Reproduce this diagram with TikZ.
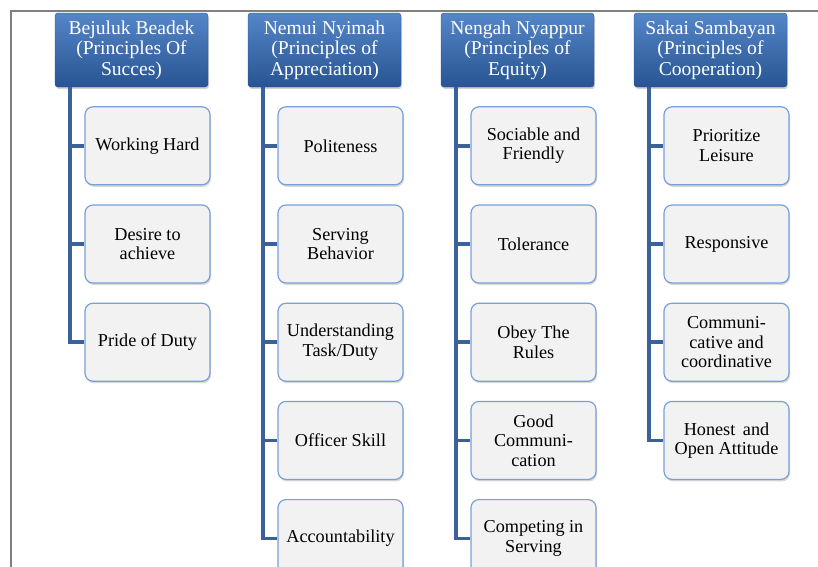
\documentclass[tikz,border=0pt]{standalone}
\usepackage{fontspec}
\setmainfont{Liberation Serif}
\newfontfamily\diagserif{Liberation Serif}
\usepackage{xcolor}
\usepackage{tikz}
\usetikzlibrary{positioning}
\usetikzlibrary{shadows}

\definecolor{headtop}{RGB}{84,134,200}
\definecolor{headbot}{RGB}{40,84,146}
\definecolor{itemline}{RGB}{120,160,216}
\definecolor{itemfill}{RGB}{242,242,242}
\definecolor{trunkcol}{RGB}{58,98,152}
\definecolor{framecol}{RGB}{128,128,128}

\begin{document}
\begin{tikzpicture}[x=1pt,y=-1pt,node distance=19pt,
        head/.style={rectangle,rounded corners=3pt,minimum width=153pt,minimum height=74pt,
            top color=headtop,bottom color=headbot,draw=headbot,text=white,align=center,
            inner sep=1pt,font=\diagserif\fontsize{19.6}{20.5}\selectfont,
            drop shadow={opacity=0.35,shadow xshift=1pt,shadow yshift=-2pt}},
        item/.style={rectangle,rounded corners=8pt,minimum width=125pt,minimum height=78pt,
            fill=itemfill,draw=itemline,line width=1.2pt,align=center,inner sep=1pt,
            font=\diagserif\fontsize{18.2}{19.5}\selectfont,
            drop shadow={opacity=0.3,shadow xshift=1pt,shadow yshift=-2pt}},
        trunk/.style={draw=trunkcol,line width=3.5pt}]
        \clip (0,0) rectangle (818,566);
        \draw[framecol,line width=1.5pt] (11,11) rectangle (840,600);

        % column heads
        \node[head] (bejuluk) at (131.5,50) {Bejuluk Beadek\\(Principles Of\\Succes)};
        \node[head] (nemui) at (324.5,50) {Nemui Nyimah\\(Principles of\\Appreciation)};
        \node[head] (nengah) at (517.5,50) {Nengah Nyappur\\(Principles of\\Equity)};
        \node[head] (sakai) at (710.5,50) {Sakai Sambayan\\(Principles of\\Cooperation)};

        % Bejuluk Beadek
        \node[item,below=of bejuluk,xshift=16pt] (working) {Working Hard};
        \node[item,below=of working] (desire) {Desire to\\achieve};
        \node[item,below=of desire] (pride) {Pride of Duty};

        % Nemui Nyimah
        \node[item,below=of nemui,xshift=16pt] (polite) {Politeness};
        \node[item,below=of polite] (serving) {Serving\\Behavior};
        \node[item,below=of serving] (underst) {Understanding\\Task/Duty};
        \node[item,below=of underst] (officer) {Officer Skill};
        \node[item,below=of officer] (account) {Accountability};

        % Nengah Nyappur
        \node[item,below=of nengah,xshift=16pt] (sociable) {Sociable and\\Friendly};
        \node[item,below=of sociable] (toler) {Tolerance};
        \node[item,below=of toler] (obey) {Obey The\\Rules};
        \node[item,below=of obey] (goodcom) {Good\\Communi-\\cation};
        \node[item,below=of goodcom] (compet) {Competing in\\Serving};

        % Sakai Sambayan
        \node[item,below=of sakai,xshift=16pt] (leisure) {Prioritize\\Leisure};
        \node[item,below=of leisure] (respons) {Responsive};
        \node[item,below=of respons] (coord) {Communi-\\cative and\\coordinative};
        \node[item,below=of coord] (honest) {Honest\, and\\Open Attitude};

        % trunks
        \coordinate (t1) at ([xshift=15pt]bejuluk.south west);
        \coordinate (t2) at ([xshift=15pt]nemui.south west);
        \coordinate (t3) at ([xshift=15pt]nengah.south west);
        \coordinate (t4) at ([xshift=15pt]sakai.south west);
        \foreach \c in {working,desire,pride} \draw[trunk] (t1) |- (\c.west);
        \foreach \c in {polite,serving,underst,officer,account} \draw[trunk] (t2) |- (\c.west);
        \foreach \c in {sociable,toler,obey,goodcom,compet} \draw[trunk] (t3) |- (\c.west);
        \foreach \c in {leisure,respons,coord,honest} \draw[trunk] (t4) |- (\c.west);
    \end{tikzpicture}
\end{document}
